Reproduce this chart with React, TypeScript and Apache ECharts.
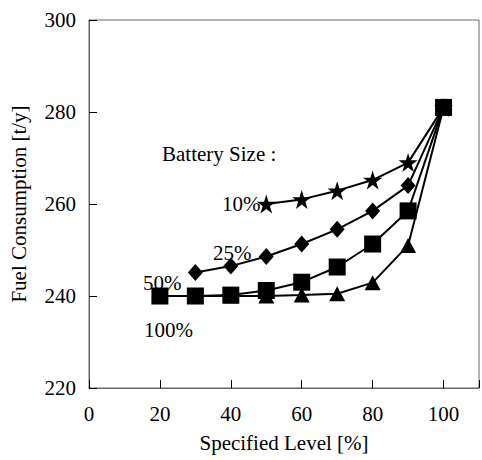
import React, { useEffect, useRef } from "react";
import * as echarts from "echarts";

const starX = [50, 60, 70, 80, 90, 100];
const starY = [260, 261, 262.9, 265.2, 269, 281];
const diamondX = [30, 40, 50, 60, 70, 80, 90, 100];
const diamondY = [245.1, 246.5, 248.6, 251.3, 254.5, 258.5, 264, 281];
const squareX = [20, 30, 40, 50, 60, 70, 80, 90, 100];
const squareY = [240, 240, 240.2, 241.2, 243, 246.3, 251.3, 258.5, 281];
const triX = [20, 30, 40, 50, 60, 70, 80, 90, 100];
const triY = [240, 240, 240, 240, 240.2, 240.5, 242.9, 251, 281];

const xTicks = [0, 20, 40, 60, 80, 100];
const yTicks = [220, 240, 260, 280, 300];

const annotations = [
  { text: "Battery Size :", x: 162, y: 155 },
  { text: "10%", x: 222, y: 205 },
  { text: "25%", x: 213, y: 254 },
  { text: "50%", x: 143, y: 284 },
  { text: "100%", x: 144, y: 331 },
];

const STAR =
  "path://M50,0 L61.2,34.5 L97.6,34.5 L68.2,55.9 L79.4,90.5 L50,69.1 L20.6,90.5 L31.8,55.9 L2.4,34.5 L38.8,34.5 Z";

const FONT = "serif";

function zip(xs: number[], ys: number[]) {
  return xs.map((x, i) => [x, ys[i]]);
}

export default function App() {
  const ref = useRef<HTMLDivElement>(null);
  useEffect(() => {
    if (!ref.current) return;
    const chart = echarts.init(ref.current, undefined, { renderer: "svg" });
    const lineStyle = { color: "#000", width: 2 };
    const mk = (name: string, data: number[][], symbol: string, size: number | number[]) => ({
      name,
      type: "line",
      data,
      symbol,
      symbolSize: size,
      lineStyle,
      itemStyle: { color: "#000" },
      z: 3,
    });
    chart.setOption({
      animation: false,
      backgroundColor: "#fff",
      textStyle: { fontFamily: FONT },
      grid: {
        left: 84,
        top: 20,
        width: 400,
        height: 368,
        show: true,
        borderColor: "#666",
        borderWidth: 1,
      },
      xAxis: {
        type: "value",
        min: 0,
        max: 110,
        interval: 20,
        name: "Specified Level [%]",
        nameLocation: "middle",
        nameGap: 44,
        nameTextStyle: { fontFamily: FONT, fontSize: 21, color: "#000" },
        axisLine: { lineStyle: { color: "#666" } },
        axisTick: { inside: true, length: 8, lineStyle: { color: "#000" } },
        axisLabel: {
          fontFamily: FONT,
          fontSize: 21,
          color: "#000",
          margin: 15,
          formatter: (v: number) => (xTicks.includes(v) ? String(v) : ""),
        },
        splitLine: { show: false },
      },
      yAxis: {
        type: "value",
        min: 220,
        max: 300,
        interval: 20,
        name: "Fuel Consumption [t/y]",
        nameLocation: "middle",
        nameGap: 60,
        nameRotate: 90,
        nameTextStyle: { fontFamily: FONT, fontSize: 21, color: "#000" },
        axisLine: { show: true, lineStyle: { color: "#666" } },
        axisTick: { show: true, inside: true, length: 8, lineStyle: { color: "#000" } },
        axisLabel: {
          fontFamily: FONT,
          fontSize: 21,
          color: "#000",
          margin: 13,
          formatter: (v: number) => (yTicks.includes(v) ? String(v) : ""),
        },
        splitLine: { show: false },
      },
      graphic: annotations.map((a) => ({
        type: "text",
        left: a.x,
        top: a.y - 12,
        z: 1,
        style: { text: a.text, fontFamily: FONT, fontSize: 21, fill: "#000" },
      })),
      series: [
        mk("100%", zip(triX, triY), "triangle", [16, 15]),
        mk("10%", zip(starX, starY), STAR, 19),
        mk("25%", zip(diamondX, diamondY), "diamond", [15, 17]),
        mk("50%", zip(squareX, squareY), "rect", 17),
      ],
    });
    return () => chart.dispose();
  }, []);
  return (
    <div
      ref={ref}
      style={{ position: "fixed", left: 0, top: 0, width: 482, height: 460, background: "#fff" }}
    />
  );
}
